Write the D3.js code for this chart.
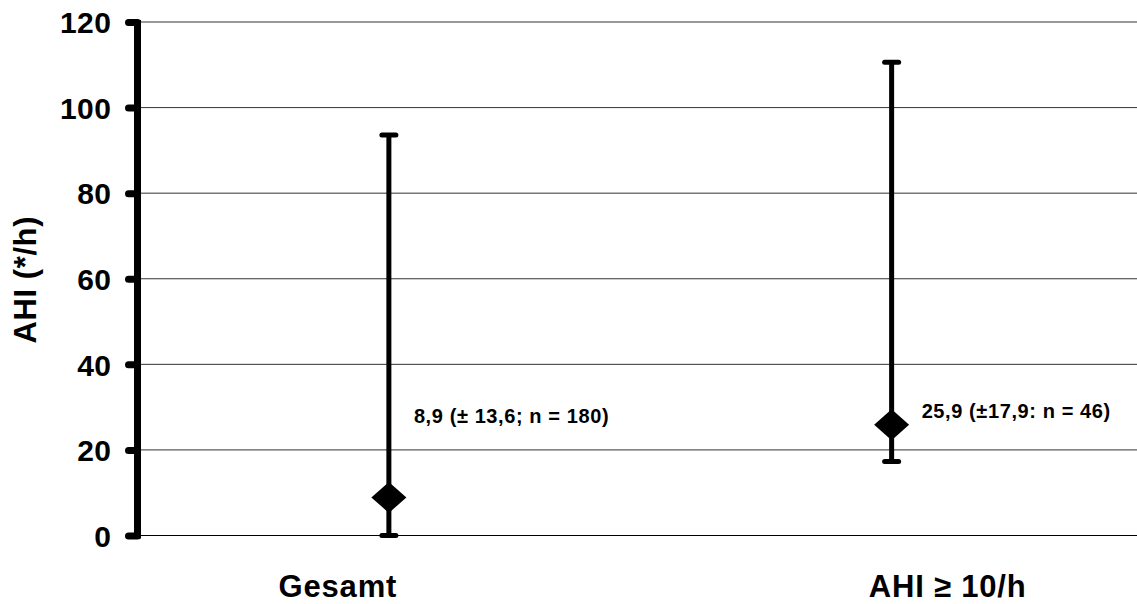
<!DOCTYPE html>
<html>
<head>
<meta charset="utf-8">
<script src="https://cdn.jsdelivr.net/npm/d3@7"></script>
<style>
  html, body { margin: 0; padding: 0; background: #fff; }
  svg { display: block; }
  text { font-family: "Liberation Sans", Arial, sans-serif; font-weight: bold; fill: #000; }
</style>
</head>
<body>
<svg id="chart" width="1137" height="604"></svg>
<script>
const categories = ["Gesamt", "AHI \u2265 10/h"];
const meanValues = [8.9, 25.9];
const minValues = [0, 17.3];
const maxValues = [93.6, 110.6];
const pointLabels = ["8,9 (\u00b1 13,6; n = 180)", "25,9 (\u00b117,9: n = 46)"];
const yTicks = [0, 20, 40, 60, 80, 100, 120];
const yTitle = "AHI (*/h)";

const svg = d3.select("#chart");
const W = 1137, H = 604;
const margin = { left: 137.5, right: -6, top: 22, bottom: 68.5 };

const x = d3.scaleBand().domain(categories)
  .range([margin.left, W - margin.right]).padding(0);
const y = d3.scaleLinear().domain([0, 120]).range([H - margin.bottom, margin.top]);

// gridlines
svg.append("g").selectAll("line").data(yTicks).join("line")
  .attr("x1", margin.left).attr("x2", W)
  .attr("y1", d => y(d)).attr("y2", d => y(d))
  .attr("stroke", d => d === 0 ? "#000" : "#333")
  .attr("stroke-width", 1);

// y axis
const yAxis = d3.axisLeft(y).tickValues(yTicks).tickSize(10).tickPadding(16);
const gy = svg.append("g").attr("transform", `translate(${margin.left},0)`).call(yAxis);
gy.select(".domain").remove();
gy.selectAll(".tick line").attr("stroke", "#000").attr("stroke-width", 7)
  .attr("stroke-linecap", "round").attr("x1", -9).attr("x2", 0);
gy.selectAll(".tick text").attr("font-size", 30).attr("font-weight", "bold")
  .attr("font-family", '"Liberation Sans", Arial, sans-serif').attr("fill", "#000")
  .attr("letter-spacing", 0.5)
  .attr("dy", "0.36em");
gy.append("line").attr("x1", 0).attr("x2", 0)
  .attr("y1", y(120) - 2).attr("y2", y(0) + 3)
  .attr("stroke", "#000").attr("stroke-width", 7);

// y title
svg.append("text")
  .attr("transform", `translate(36,${y(60) + 1}) rotate(-90)`)
  .attr("text-anchor", "middle").attr("font-size", 31)
  .attr("letter-spacing", 0.6)
  .text(yTitle);

// x labels
const xLabelOffset = [-51, 56];
svg.append("g").selectAll("text").data(categories).join("text")
  .attr("x", (d, i) => x(d) + x.bandwidth() / 2 + xLabelOffset[i])
  .attr("y", 597)
  .attr("text-anchor", "middle").attr("font-size", 31)
  .attr("letter-spacing", 0.8)
  .text(d => d);

// error bars
const data = categories.map((c, i) => ({ c, mean: meanValues[i], min: minValues[i], max: maxValues[i], label: pointLabels[i] }));
const g = svg.append("g");
const cx = d => x(d.c) + x.bandwidth() / 2;
g.selectAll("line.v").data(data).join("line").attr("class", "v")
  .attr("x1", cx).attr("x2", cx)
  .attr("y1", d => y(d.max)).attr("y2", d => y(d.min))
  .attr("stroke", "#000").attr("stroke-width", 5);
["min", "max"].forEach(k => {
  g.selectAll("line.cap-" + k).data(data).join("line").attr("class", "cap-" + k)
    .attr("x1", d => cx(d) - 7).attr("x2", d => cx(d) + 7)
    .attr("y1", d => y(d[k])).attr("y2", d => y(d[k]))
    .attr("stroke", "#000").attr("stroke-width", 5).attr("stroke-linecap", "round");
});
// diamonds
g.selectAll("path.dia").data(data).join("path").attr("class", "dia")
  .attr("d", d => {
    const px = cx(d), py = y(d.mean), hw = 17.5, hh = 15.5;
    return `M${px},${py - hh}L${px + hw},${py}L${px},${py + hh}L${px - hw},${py}Z`;
  })
  .attr("fill", "#000");
// point labels
const labelDX = [25, 30];
const labelDY = [-74.4, -6.4];
g.selectAll("text.pl").data(data).join("text").attr("class", "pl")
  .attr("x", (d, i) => cx(d) + labelDX[i])
  .attr("y", (d, i) => y(d.mean) + labelDY[i])
  .attr("font-size", 20)
  .attr("letter-spacing", 0.6)
  .text(d => d.label);
</script>
</body>
</html>
